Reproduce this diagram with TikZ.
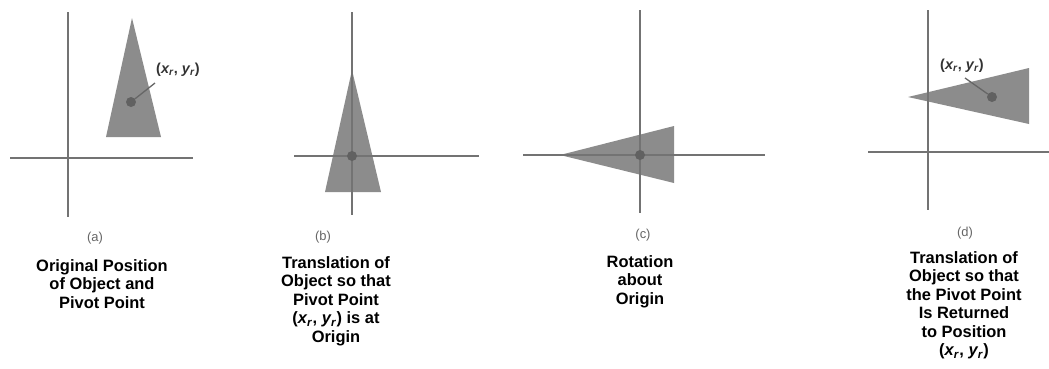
\documentclass[tikz,border=0pt]{standalone}
\usepackage{fontspec}
\setmainfont{Liberation Sans}
\newcommand{\xyr}{(\textit{x}\textsubscript{\kern-0.5pt\textit{r}}, \textit{y}\textsubscript{\kern-0.5pt\textit{r}})}
\begin{document}
\begin{tikzpicture}[x=1bp,y=-1bp,
  axis/.style={draw=black!55, line width=1.3bp},
  tri/.style={fill=black!45, draw=none},
  pivot/.style={circle, fill=black!62, inner sep=0pt, minimum size=10bp},
  lead/.style={draw=black!60, line width=1.3bp},
  ptlabel/.style={font=\bfseries\fontsize{14.5}{16}\selectfont, text=black!80, inner sep=1pt},
  tag/.style={font=\fontsize{13}{15}\selectfont, text=black!60, inner sep=0pt},
  caption/.style={font=\bfseries\fontsize{16.5}{18.6}\selectfont, align=center, inner sep=0pt, anchor=north}]
\useasboundingbox[fill=white] (0,0) rectangle (1049,368);

% ---------- (a)
\fill[tri] (132,18) -- (161,137) -- (106,137) -- cycle;
\draw[axis] (68,12) -- (68,217);
\draw[axis] (10,158) -- (193,158);
\node[pivot] (pa) at (131,102) {};
\node[ptlabel] (la) at (178,70) {\xyr};
\draw[lead] (155,83) -- (pa);
\node[tag] (ta) at (95,238) {(a)};
\node[caption] (ca) at (102,259) {Original Position\\of Object and\\Pivot Point};

% ---------- (b)
\fill[tri] (352,70) -- (381,192) -- (325,192) -- cycle;
\draw[axis] (352,12) -- (352,215);
\draw[axis] (294,156) -- (479,156);
\node[pivot] (pb) at (352,156) {};
\node[tag] (tb) at (323,237) {(b)};
\node[caption] (cb) at (336,256) {Translation of\\Object so that\\Pivot Point\\\xyr{} is at\\Origin};

% ---------- (c)
\fill[tri] (560,155) -- (674,126) -- (674,183) -- cycle;
\draw[axis] (640,10) -- (640,213);
\draw[axis] (523,155) -- (765,155);
\node[pivot] (pc) at (640,155) {};
\node[tag] (tc) at (643,235) {(c)};
\node[caption] (cc) at (640,255) {Rotation\\about\\Origin};

% ---------- (d)
\fill[tri] (908,97) -- (1029,68) -- (1029,124) -- cycle;
\draw[axis] (928,10) -- (928,210);
\draw[axis] (868,152) -- (1049,152);
\node[pivot] (pd) at (992,97) {};
\node[ptlabel] (ld) at (962,66) {\xyr};
\draw[lead] (965,78) -- (pd);
\node[tag] (td) at (965,233) {(d)};
\node[caption] (cd) at (964,251) {Translation of\\Object so that\\the Pivot Point\\Is Returned\\to Position\\\xyr};
\end{tikzpicture}
\end{document}
